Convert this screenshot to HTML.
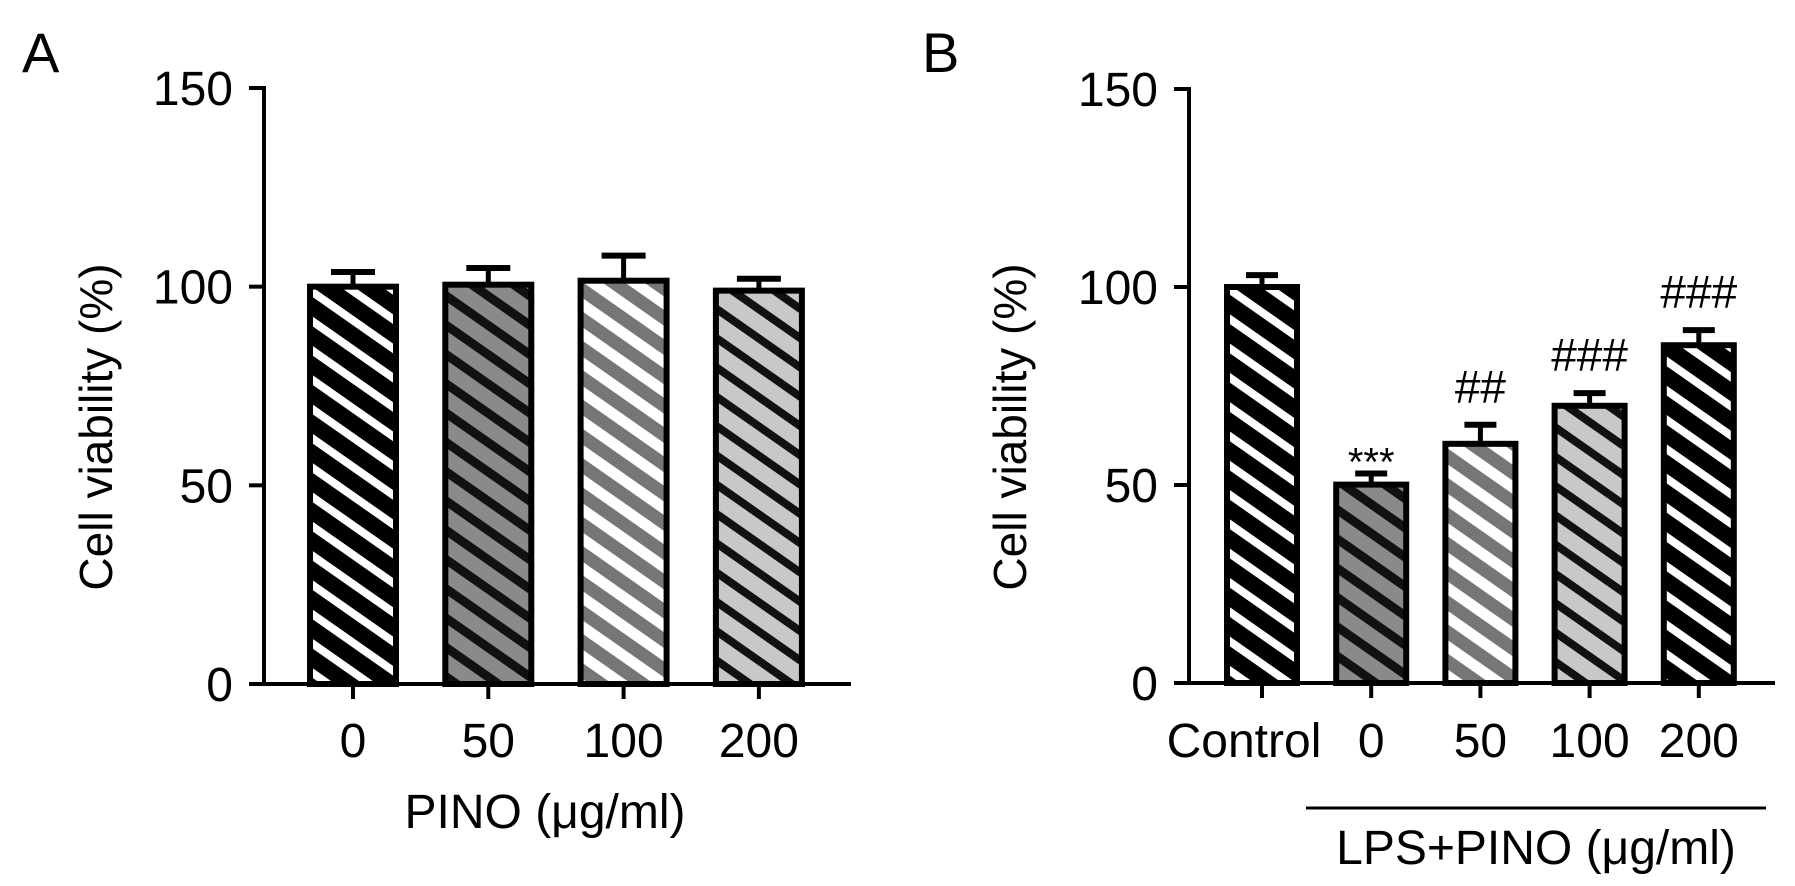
<!DOCTYPE html>
<html><head><meta charset="utf-8"><style>
html,body{margin:0;padding:0;background:#fff;}
svg{display:block;font-family:"Liberation Sans",Arial,sans-serif;}
</style></head><body>
<svg id="fig" width="1795" height="886" viewBox="0 0 1795 886">
<defs>
<pattern id="pBW" width="24" height="24" patternUnits="userSpaceOnUse" patternTransform="rotate(35)"><rect width="24" height="24" fill="#000"/><rect y="8" width="24" height="8" fill="#fff"/></pattern>
<pattern id="pGK" width="24" height="24" patternUnits="userSpaceOnUse" patternTransform="rotate(35)"><rect width="24" height="24" fill="#8a8a8a"/><rect y="6" width="24" height="9" fill="#111"/></pattern>
<pattern id="pGW" width="24" height="24" patternUnits="userSpaceOnUse" patternTransform="rotate(35)"><rect width="24" height="24" fill="#767676"/><rect y="6" width="24" height="11" fill="#fff"/></pattern>
<pattern id="pLK" width="24" height="24" patternUnits="userSpaceOnUse" patternTransform="rotate(35)"><rect width="24" height="24" fill="#c8c8c8"/><rect y="6" width="24" height="8" fill="#111"/></pattern>
</defs>
<g id="panelA"></g>
<g id="panelB"></g>
</svg>
<script>
const catsA = ["0","50","100","200"];
const valsA = [100, 100.5, 101.5, 99];
const errA = [3.7, 4.2, 6.3, 3];
const fillsA = ["pBW","pGK","pGW","pLK"];
const catsB = ["Control","0","50","100","200"];
const valsB = [100, 50.1, 60.4, 70, 85.3];
const errB = [3, 2.8, 4.8, 3.2, 3.8];
const annB = ["", "***", "##", "###", "###"];
const fillsB = ["pBW","pGK","pGW","pLK","pBW"];
const ticks = [0, 50, 100, 150];

const NS = "http://www.w3.org/2000/svg";
function mk(parent, tag, attrs, text){
  const e = document.createElementNS(NS, tag);
  for (const k in attrs) e.setAttribute(k, attrs[k]);
  if (text !== undefined) e.textContent = text;
  parent.appendChild(e);
  return e;
}
function drawPanel(g, opt){
  const y = v => opt.y0 - v * (opt.y0 - opt.y150) / 150;
  const x = i => opt.x0c + i * opt.step;
  // y axis
  const ya = mk(g, "line", {x1:opt.ax, y1:y(150)-2, x2:opt.ax, y2:opt.y0+2, stroke:"#000","stroke-width":4});
  
  
  const xa = mk(g, "line", {x1:opt.ax-2, y1:opt.y0, x2:opt.axEnd, y2:opt.y0, stroke:"#000","stroke-width":4});
  
  
  ticks.forEach(t => {
    const tl = mk(g, "line", {x1:opt.ax-15, y1:y(t), x2:opt.ax, y2:y(t), stroke:"#000","stroke-width":4});
    
    
    const tt = mk(g, "text", {x:opt.ax-31, y:y(t)+17, "text-anchor":"end","font-size":48}, String(t));
    
    
  });
  opt.cats.forEach((c, i) => {
    const cx = x(i), top = y(opt.vals[i]), et = y(opt.vals[i] + opt.errs[i]);
    const eb = mk(g, "line", {x1:cx, y1:et, x2:cx, y2:top, stroke:"#000","stroke-width":5});
    
    
    const ec = mk(g, "line", {x1:cx-opt.cap/2, y1:et, x2:cx+opt.cap/2, y2:et, stroke:"#000","stroke-width":6});
    
    
    const b = mk(g, "rect", {x:cx-opt.bw/2, y:top, width:opt.bw, height:opt.y0-top, fill:"url(#"+opt.fills[i]+")", stroke:"#000","stroke-width":6});
    
    
    const xt = mk(g, "line", {x1:cx, y1:opt.y0, x2:cx, y2:opt.y0+15, stroke:"#000","stroke-width":4});
    
    
    const lx = (c === "Control") ? cx - 18 : cx;
    const xl = mk(g, "text", {x:lx, y:757, "text-anchor":"middle","font-size":48}, c);
    
    
    if (opt.ann && opt.ann[i]) {
      const isStar = opt.ann[i][0] === "*";
      const a = mk(g, "text", {x:cx, y:et-(isStar?-2:22), "text-anchor":"middle","font-size":isStar?40:46}, opt.ann[i]);
      
      
    }
  });
}
const gA = document.getElementById("panelA");
const gB = document.getElementById("panelB");
drawPanel(gA, {ax:264, axEnd:851, y0:684, y150:88, x0c:353, step:135.3, bw:86, cap:44, cats:catsA, vals:valsA, errs:errA, fills:fillsA});
drawPanel(gB, {ax:1189, axEnd:1775, y0:683, y150:89, x0c:1262, step:109.2, bw:70, cap:32, cats:catsB, vals:valsB, errs:errB, fills:fillsB, ann:annB});

let t;
t = mk(gA, "text", {x:22, y:72, "font-size":56}, "A");


t = mk(gA, "text", {x:0, y:0, "text-anchor":"middle","font-size":46, transform:"translate(112,427) rotate(-90)"}, "Cell viability (%)");


t = mk(gA, "text", {x:545, y:828, "text-anchor":"middle","font-size":48}, "PINO (\u03bcg/ml)");


t = mk(gB, "text", {x:922, y:72, "font-size":56}, "B");


t = mk(gB, "text", {x:0, y:0, "text-anchor":"middle","font-size":46, transform:"translate(1026,427) rotate(-90)"}, "Cell viability (%)");


t = mk(gB, "line", {x1:1306, y1:808, x2:1766, y2:808, stroke:"#000","stroke-width":3});


t = mk(gB, "text", {x:1536, y:864, "text-anchor":"middle","font-size":48}, "LPS+PINO (\u03bcg/ml)");


</script>
</body></html>
